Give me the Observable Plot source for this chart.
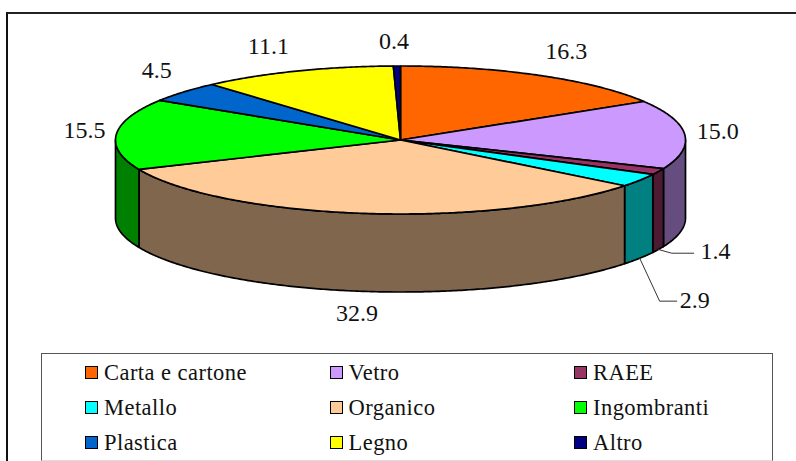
<!DOCTYPE html>
<html>
<head>
<meta charset="utf-8">
<script src="https://cdn.jsdelivr.net/npm/d3@7"></script>
<script src="https://cdn.jsdelivr.net/npm/@observablehq/plot@0.6"></script>
<style>
  html, body { margin: 0; padding: 0; background: #fff; }
  #page { position: relative; width: 796px; height: 461px; overflow: hidden; font-family: "Liberation Serif", serif; color: #111; }
  #page svg { display: block; position: absolute; left: 0; top: 0; }
  #frame { position: absolute; left: 6px; top: 12px; width: 800px; height: 460px; border-left: 2px solid #111; border-top: 2px solid #222; box-sizing: border-box; }
  #legend { position: absolute; left: 41px; top: 353px; width: 732px; height: 108px; box-sizing: border-box;
    border: 1px solid #555; border-bottom-color: #ddd; background: #fff; padding: 1px 0 0 43px;
    display: grid; grid-template-columns: 244.5px 244.5px 150px; grid-auto-rows: 35px; font-size: 22.5px; letter-spacing: 0.45px; }
  .item { display: flex; align-items: center; gap: 6px; white-space: nowrap; }
  .swatch { width: 13px; height: 13px; box-sizing: border-box; border: 1.5px solid #000; flex: none; }
</style>
</head>
<body>
<div id="page"><div id="frame"></div><div id="chart"></div><div id="legend"></div></div>
<script>
const categories = ["Carta e cartone", "Vetro", "RAEE", "Metallo", "Organico", "Ingombranti", "Plastica", "Legno", "Altro"];
const values = [16.3, 15.0, 1.4, 2.9, 32.9, 15.5, 4.5, 11.1, 0.4];
const labelTexts = ["16.3", "15.0", "1.4", "2.9", "32.9", "15.5", "4.5", "11.1", "0.4"];
const topColors = ["#FF6600", "#CC99FF", "#993366", "#00FFFF", "#FFCC99", "#00FF00", "#0066CC", "#FFFF00", "#000080"];
const wallColors = ["#804D33", "#664D80", "#4D1A33", "#008080", "#80664D", "#008000", "#003366", "#808000", "#000040"];

// label placement relative to each slice's rim point (px)
const labelDx = [26, 33, 57, 55, -7, -32, -27, -28, -3];
const labelDy = [-24, -3, 2, 42, 22, -4, -22, -25, -25];
const depth = 1.054; // wall height, in units of the pie's foreshortened radius

const total = d3.sum(values);
const cum = d3.cumsum(values);
const angle = p => (p / total) * 2 * Math.PI;
const rimX = t => Math.sin(t);
const rimY = t => Math.cos(t);
const arc = (a, b) => {
  const n = Math.max(2, Math.ceil(Math.abs(b - a) / 0.01));
  return d3.range(n + 1).map(i => a + (b - a) * i / n);
};

const slices = categories.map((name, i) => ({
  name, i, a: angle(i ? cum[i - 1] : 0), b: angle(cum[i]), mid: angle((i ? cum[i - 1] : 0) + values[i] / 2)
}));

// walls: only the front half of the rim (PI/2 .. 3PI/2) is visible
const wallRows = [];
for (const s of slices) {
  const a = Math.max(s.a, Math.PI / 2), b = Math.min(s.b, 3 * Math.PI / 2);
  if (b <= a) continue;
  const ts = arc(a, b);
  for (const t of ts) wallRows.push({key: "w" + s.i, x: rimX(t), y: rimY(t), color: wallColors[s.i]});
  for (const t of ts.slice().reverse()) wallRows.push({key: "w" + s.i, x: rimX(t), y: rimY(t) - depth, color: wallColors[s.i]});
  wallRows.push({key: "w" + s.i, x: rimX(a), y: rimY(a), color: wallColors[s.i]});
}
// tops
const topRows = [];
for (const s of slices) {
  topRows.push({key: "t" + s.i, x: 0, y: 0, color: topColors[s.i]});
  for (const t of arc(s.a, s.b)) topRows.push({key: "t" + s.i, x: rimX(t), y: rimY(t), color: topColors[s.i]});
  topRows.push({key: "t" + s.i, x: 0, y: 0, color: topColors[s.i]});
}

const labelRows = slices.map((s, i) => {
  const front = Math.cos(s.mid) < 0;
  return {text: labelTexts[i], x: rimX(s.mid), y: rimY(s.mid) - (front ? depth : 0), i};
});

// leader lines for the two small slices: from the wall's foot to the label
const leaderRows = [];
for (const [i, kneeDx, kneeDy, endDx] of [[2, 0.047, -0.05, 0.124], [3, 0.07, -0.58, 0.13]]) {
  const l = labelRows[i];
  leaderRows.push({key: i, x: l.x, y: l.y});
  leaderRows.push({key: i, x: l.x + kneeDx, y: l.y + kneeDy});
  leaderRows.push({key: i, x: l.x + endDx, y: l.y + kneeDy});
}

const plot = Plot.plot({
  width: 796, height: 353,
  margin: 0,
  x: {domain: [-400 / 285, 396 / 285], range: [0, 796], axis: null},
  y: {domain: [139.5 / 74, (139.5 - 353) / 74], range: [0, 353], axis: null},
  color: {type: "identity"},
  marks: [
    Plot.line(wallRows, {x: "x", y: "y", z: "key", fill: "color", stroke: "#000", strokeWidth: 1.7, strokeLinejoin: "round"}),
    Plot.line(topRows, {x: "x", y: "y", z: "key", fill: "color", stroke: "#000", strokeWidth: 1.7, strokeLinejoin: "round"}),
    Plot.line(leaderRows, {x: "x", y: "y", z: "key", stroke: "#333", strokeWidth: 1}),
    ...labelRows.map((l, i) => Plot.text([l], {
      x: "x", y: "y", text: "text", dx: labelDx[i], dy: labelDy[i],
      fontSize: 24, fontFamily: "Liberation Serif, serif", fill: "#111", textAnchor: "middle"
    }))
  ]
});
plot.style.background = "transparent";
document.getElementById("chart").append(plot);

const legend = document.getElementById("legend");
categories.forEach((name, i) => {
  const item = document.createElement("div");
  item.className = "item";
  const sw = document.createElement("span");
  sw.className = "swatch";
  sw.style.background = topColors[i];
  const tx = document.createElement("span");
  tx.textContent = name;
  item.append(sw, tx);
  legend.append(item);
});
</script>
</body>
</html>
